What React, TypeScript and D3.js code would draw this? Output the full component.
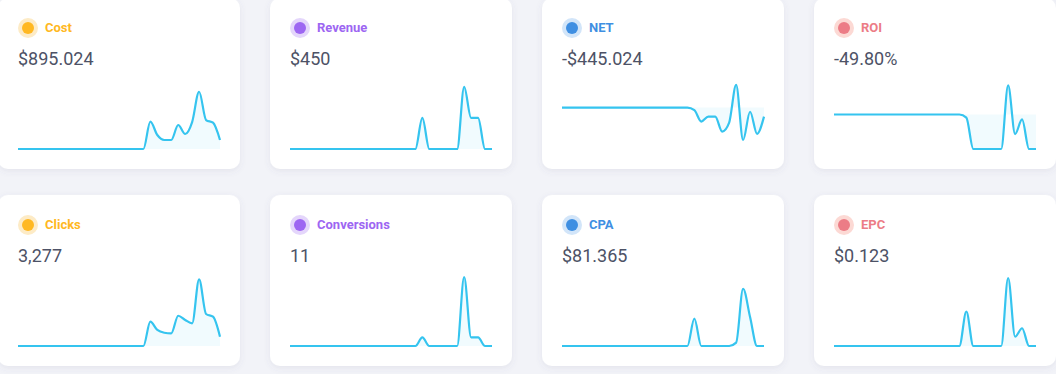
import React from 'react'
import * as d3 from 'd3'

// 30 days of stats, only the last ~11 days have traffic
const days = d3.range(30)

const z = (n: number) => Array(n).fill(0)

const cost = [...z(19), 99.1, 50.7, 32.6, 32.6, 86.9, 54.3, 97.7, 207.4, 105, 95.2, 32.6]
const revenue = [...z(19), 90, 0, 0, 0, 0, 0, 180, 90, 90, 0, 0]
const net = [...z(19), -9.1, -50.7, -32.6, -32.6, -86.9, -54.3, 82.3, -117.4, -15, -95.2, -32.6]
const roi = [...z(19), -9.2, -100, -100, -100, -100, -100, 84.2, -56.6, -14.3, -100, -100]
const clicks = [...z(19), 282, 186, 154, 147, 351, 302, 263, 773, 371, 340, 108]
const conversions = [...z(19), 1, 0, 0, 0, 0, 0, 8, 1, 1, 0, 0]
const cpa = [...z(19), 99.1, 0, 0, 0, 0, 0, 12.2, 207.4, 105, 0, 0]
const epc = [...z(19), 0.35, 0, 0, 0, 0, 0, 0.69, 0.095, 0.18, 0, 0]

const titles = ['Cost', 'Revenue', 'NET', 'ROI', 'Clicks', 'Conversions', 'CPA', 'EPC']
const totals = ['$895.024', '$450', '-$445.024', '-49.80%', '3,277', '11', '$81.365', '$0.123']
const seriesList = [cost, revenue, net, roi, clicks, conversions, cpa, epc]

const palette = [
    { main: '#ffb822', soft: '#fdebc6' },
    { main: '#9d66f2', soft: '#e4d6fb' },
    { main: '#3f8fe2', soft: '#d2e5f9' },
    { main: '#ec7c86', soft: '#fcd9d4' },
]

const W = 1056
const H = 374
const cardW = 242
const cardH = 171
const lineColor = '#35c4ef'

function Card({ i }: { i: number }) {
    const col = i % 4
    const row = Math.floor(i / 4)
    const x0 = -2 + col * 272
    const y0 = -2 + row * 197
    const data = seriesList[i]
    const c = palette[col]

    const x = d3.scaleLinear().domain([0, days.length - 1]).range([20, 222])
    const y = d3
        .scaleLinear()
        .domain([Math.min(0, d3.min(data)!), Math.max(0, d3.max(data)!)])
        .nice(5)
        .range([151, 82])

    const line = d3
        .line<number>()
        .x((d, k) => x(k))
        .y((d) => y(d))
        .curve(d3.curveMonotoneX)

    const area = d3
        .area<number>()
        .x((d, k) => x(k))
        .y0(y(0))
        .y1((d) => y(d))
        .curve(d3.curveMonotoneX)

    return (
        <g transform={`translate(${x0},${y0})`}>
            <rect width={cardW} height={cardH} rx={10} fill="#fff" filter="url(#shadow)" />
            <circle cx={30} cy={30} r={10} fill={c.soft} />
            <circle cx={30} cy={30} r={6} fill={c.main} />
            <text x={47} y={34} fill={c.main} fontSize={13} fontWeight={700}>
                {titles[i]}
            </text>
            <text x={20} y={67} fill="#4d5266" fontSize={18}>
                {totals[i]}
            </text>
            <path d={area(data)!} fill={lineColor} fillOpacity={0.07} />
            <path d={line(data)!} fill="none" stroke={lineColor} strokeWidth={2.2} />
        </g>
    )
}

export default function App() {
    return (
        <svg
            width={W}
            height={H}
            style={{ position: 'absolute', left: 0, top: 0, fontFamily: 'Roboto, sans-serif' }}
        >
            <defs>
                <filter id="shadow" x="-10%" y="-10%" width="120%" height="130%">
                    <feDropShadow dx={0} dy={2} stdDeviation={3} floodColor="#5a6080" floodOpacity={0.1} />
                </filter>
            </defs>
            <rect width={W} height={H} fill="#f2f3f8" />
            {titles.map((t, i) => (
                <Card key={t} i={i} />
            ))}
        </svg>
    )
}
